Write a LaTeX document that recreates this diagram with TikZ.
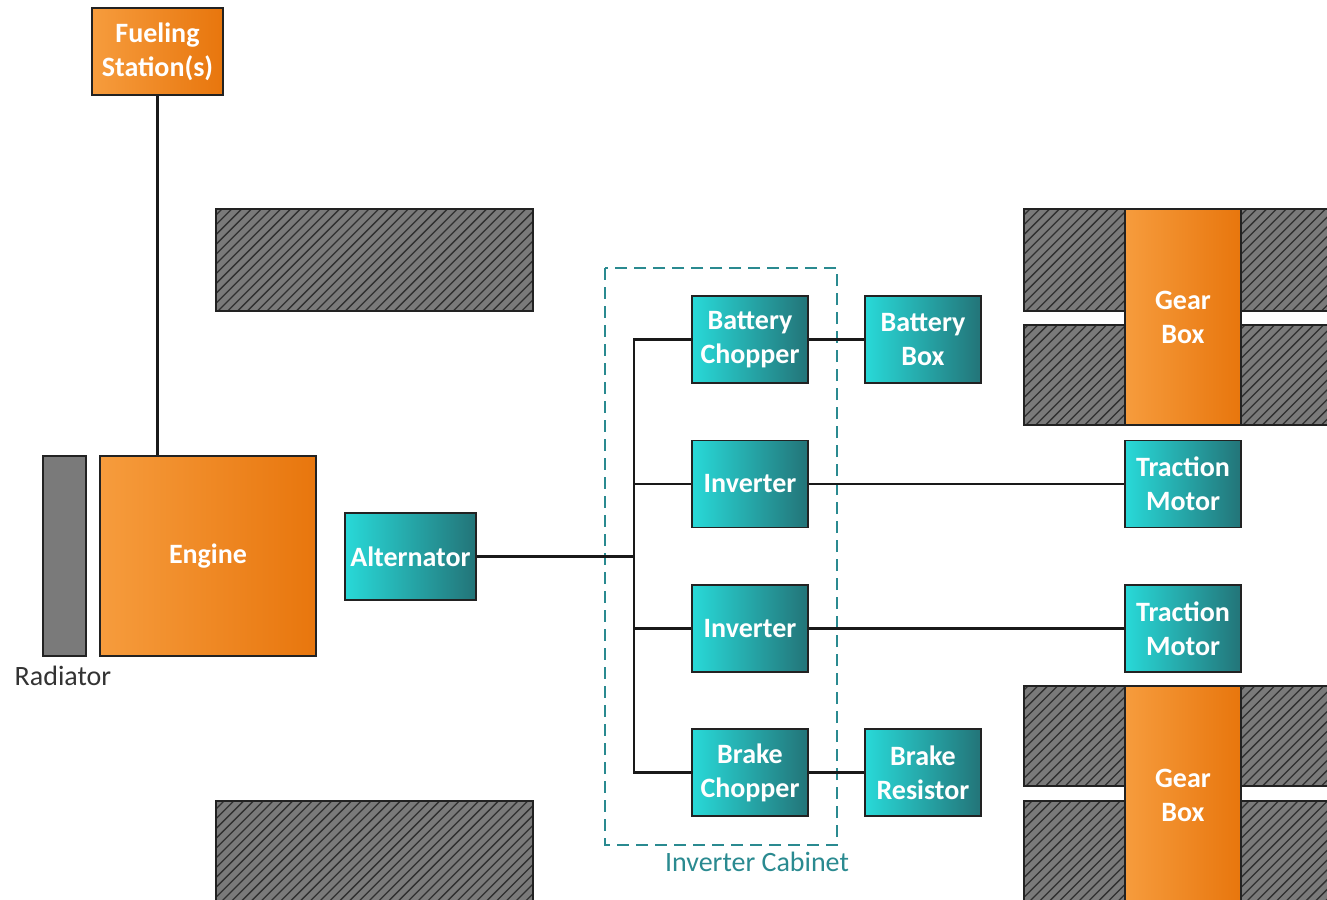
\documentclass[tikz,border=0pt]{standalone}
\usepackage{fontspec}
\setmainfont{Carlito}
\definecolor{tealL}{HTML}{28D9D8}
\definecolor{tealR}{HTML}{237478}
\definecolor{orL}{HTML}{F69C3D}
\definecolor{orR}{HTML}{E8760D}
\definecolor{hgray}{HTML}{7A7A7A}
\definecolor{hline}{HTML}{303030}
\definecolor{cab}{HTML}{2A8A90}
\definecolor{edge}{HTML}{222222}
\tikzset{
  box/.style={draw=edge, line width=1.5pt, inner sep=0pt, align=center,
    text=white, font=\bfseries\fontsize{28}{34}\selectfont},
  tealbox/.style={box, left color=tealL, right color=tealR},
  orbox/.style={box, left color=orL, right color=orR},
  wire/.style={draw=black!90, line width=2.8pt},
}
\newcommand\hatchrect[4]{%
  \begin{scope}
    \clip (#1,#2) rectangle (#3,#4);
    \fill[hgray] (#1,#2) rectangle (#3,#4);
    \foreach \k in {-13,...,36}{
      \draw[hline, line width=1.3pt] ({#1+\k*9.8},{#4+2}) -- ({#1+\k*9.8+130},{#4-128});
    }
  \end{scope}
  \draw[edge, line width=1.5pt] (#1,#2) rectangle (#3,#4);
}
\begin{document}
\begin{tikzpicture}[x=1pt,y=-1pt]
\clip (0,0) rectangle (1327,899);
\fill[white] (0,0) rectangle (1327,899);

% hatched blocks
\hatchrect{216}{209}{533}{311}
\hatchrect{216}{801}{533}{905}
\hatchrect{1024}{209}{1125}{311}
\hatchrect{1241}{209}{1340}{311}
\hatchrect{1024}{325}{1125}{425}
\hatchrect{1241}{325}{1340}{425}
\hatchrect{1024}{686}{1125}{786}
\hatchrect{1241}{686}{1340}{786}
\hatchrect{1024}{801}{1125}{905}
\hatchrect{1241}{801}{1340}{905}

% inverter cabinet
\draw[cab, line width=2pt, dash pattern=on 12pt off 7pt] (605,268) rectangle (837,845);
\node[text=cab, font=\fontsize{28}{32}\selectfont] (cablabel) at (757,862) {Inverter Cabinet};

% orange boxes
\node[orbox, minimum width=131pt, minimum height=87pt] (fuel) at (157.5,51.5) {Fueling\\Station(s)};
\node[orbox, minimum width=216pt, minimum height=200pt] (engine) at (208,556) {Engine};
\node[draw=edge, line width=1.5pt, fill=hgray, minimum width=43pt, minimum height=200pt, inner sep=0pt] (rad) at (64.5,556) {};
\node[text=black!80, font=\fontsize{28}{32}\selectfont] (radlabel) at (63,676) {Radiator};
\node[orbox, minimum width=116pt, minimum height=216pt] (gb1) at (1183,317) {Gear\\Box};
\node[orbox, minimum width=116pt, minimum height=218pt] (gb2) at (1183,795) {Gear\\Box};

% teal boxes
\node[tealbox, minimum width=131pt, minimum height=87pt] (alt) at (410.5,556.5) {Alternator};
\node[tealbox, minimum width=116pt, minimum height=87pt] (bch) at (750,339.5) {Battery\\Chopper};
\node[tealbox, minimum width=116pt, minimum height=87pt] (inv1) at (750,484) {Inverter};
\node[tealbox, minimum width=116pt, minimum height=87pt] (inv2) at (750,628.5) {Inverter};
\node[tealbox, minimum width=116pt, minimum height=87pt] (brch) at (750,772.5) {Brake\\Chopper};
\node[tealbox, minimum width=116pt, minimum height=87pt] (bbox) at (923,339.5) {Battery\\Box};
\node[tealbox, minimum width=116pt, minimum height=87pt] (bres) at (923,772.5) {Brake\\Resistor};
\node[tealbox, minimum width=116pt, minimum height=87pt] (tm1) at (1183,484) {Traction\\Motor};
\node[tealbox, minimum width=116pt, minimum height=87pt] (tm2) at (1183,628.5) {Traction\\Motor};

% connectors
\coordinate (busT) at (634,339.5);
\coordinate (busB) at (634,772.5);
\draw[wire] (fuel.south) -- (fuel.south |- engine.north);
\draw[wire, line cap=rect] (bch.west) -- (busT) -- (busB) -- (brch.west);
\draw[wire] (alt.east) -- (alt.east -| busT);
\draw[wire] (inv1.west) -- (inv1.west -| busT);
\draw[wire] (inv2.west) -- (inv2.west -| busT);
\draw[wire] (bch.east) -- (bbox.west);
\draw[wire] (brch.east) -- (bres.west);
\draw[wire] (inv1.east) -- (tm1.west);
\draw[wire] (inv2.east) -- (tm2.west);
\end{tikzpicture}
\end{document}
